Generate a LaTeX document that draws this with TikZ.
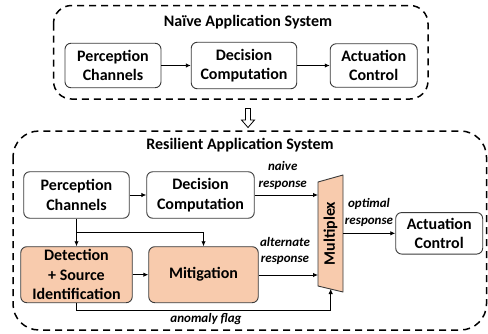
\documentclass[tikz,border=0pt]{standalone}
\usepackage{fontspec}
\setmainfont{Carlito}
\usetikzlibrary{arrows.meta}
\definecolor{peach}{HTML}{F8CBAD}
\definecolor{edge}{HTML}{3A3A3A}
\tikzset{
  box/.style={draw=edge, line width=0.9pt, rounded corners=6pt, fill=white, align=center,
    font=\fontsize{16}{19.5}\selectfont\bfseries, inner sep=0pt},
  pbox/.style={box, fill=peach},
  outer/.style={draw=black, line width=1.5pt, dash pattern=on 7pt off 5pt, rounded corners=22pt},
  arr/.style={draw=black, line width=0.9pt, -{Latex[length=5pt,width=4.5pt]}},
  ln/.style={draw=black, line width=0.9pt},
  lbl/.style={font=\fontsize{13}{16.5}\selectfont\bfseries\itshape, align=center, inner sep=0pt},
  title/.style={font=\fontsize{16}{19.5}\selectfont\bfseries, inner sep=0pt}
}
\begin{document}
\begin{tikzpicture}[x=1pt,y=-1pt]
\useasboundingbox (0,0) rectangle (488,333);
% top system
\draw[outer, rounded corners=18pt] (53.5,5.5) rectangle (428,99);
\node[title] (t1) at (248,22.5) {Naïve Application System};
\node[box, minimum width=96, minimum height=44.5] (pc1) at (113,65.5) {Perception\\Channels};
\node[box, minimum width=105.5, minimum height=46.5] (dc1) at (244,65.5) {Decision\\Computation};
\node[box, minimum width=87, minimum height=43.5] (ac1) at (373.7,65.5) {Actuation\\Control};
\draw[arr] (pc1) -- (dc1);
\draw[arr] (dc1) -- (ac1);
% hollow down arrow
\draw[line width=0.8pt, line join=miter] (245.5,108.5) -- (250.5,108.5) -- (250.5,120) -- (254.5,120) -- (248,127.5) -- (241.5,120) -- (245.5,120) -- cycle;
% resilient system
\draw[outer, rounded corners=26pt] (13,131) rectangle (486.5,330);
\node[title] (t2) at (240,145) {Resilient Application System};
\node[box, minimum width=105.5, minimum height=46.5] (pc2) at (76.5,195) {Perception\\Channels};
\node[box, minimum width=107.5, minimum height=46.5] (dc2) at (200.5,195) {Decision\\Computation};
\node[pbox, minimum width=111.5, minimum height=56] (det) at (76.5,274.7) {Detection\\+ Source\\Identification};
\node[pbox, minimum width=109.5, minimum height=56] (mit) at (203.5,274.7) {Mitigation};
\node[box, minimum width=87, minimum height=41.5] (ac2) at (439.2,233.3) {Actuation\\Control};
% multiplexer
\draw[draw=edge, line width=0.9pt, fill=peach, line join=round] (318,182) coordinate (mtl) -- (343,175) coordinate (mtr) -- (343,292) coordinate (mbr) -- (318,286) coordinate (mbl) -- cycle;
\node[title, rotate=90] (mux) at (330.5,233.5) {Multiplex};
\coordinate (minA) at (318,195);
\coordinate (minB) at (318,275);
\coordinate (mout) at (343,233.3);
\coordinate (mbot) at (330.7,289);
\coordinate (j) at (76.5,232.3);
\coordinate (fl) at (330.7,310.7);
% connectors
\draw[arr] (pc2) -- (dc2);
\draw[arr] (pc2.south) -- (det.north);
\draw[arr] (j) -| (mit.north);
\draw[arr] (det) -- (mit);
\draw[arr] (dc2.east |- minA) -- (minA);
\draw[arr] (mit.east |- minB) -- (minB);
\draw[arr] (det.south) |- (fl) -- (mbot);
\draw[arr] (mout) -- (ac2.west);
% labels
\node[lbl] (l1) at (282.7,175.5) {naive\\response};
\node[lbl] (l2) at (285,251) {alternate\\response};
\node[lbl] (l3) at (369,212.5) {optimal\\response};
\node[lbl] (l4) at (206,319) {anomaly flag};
\end{tikzpicture}
\end{document}
